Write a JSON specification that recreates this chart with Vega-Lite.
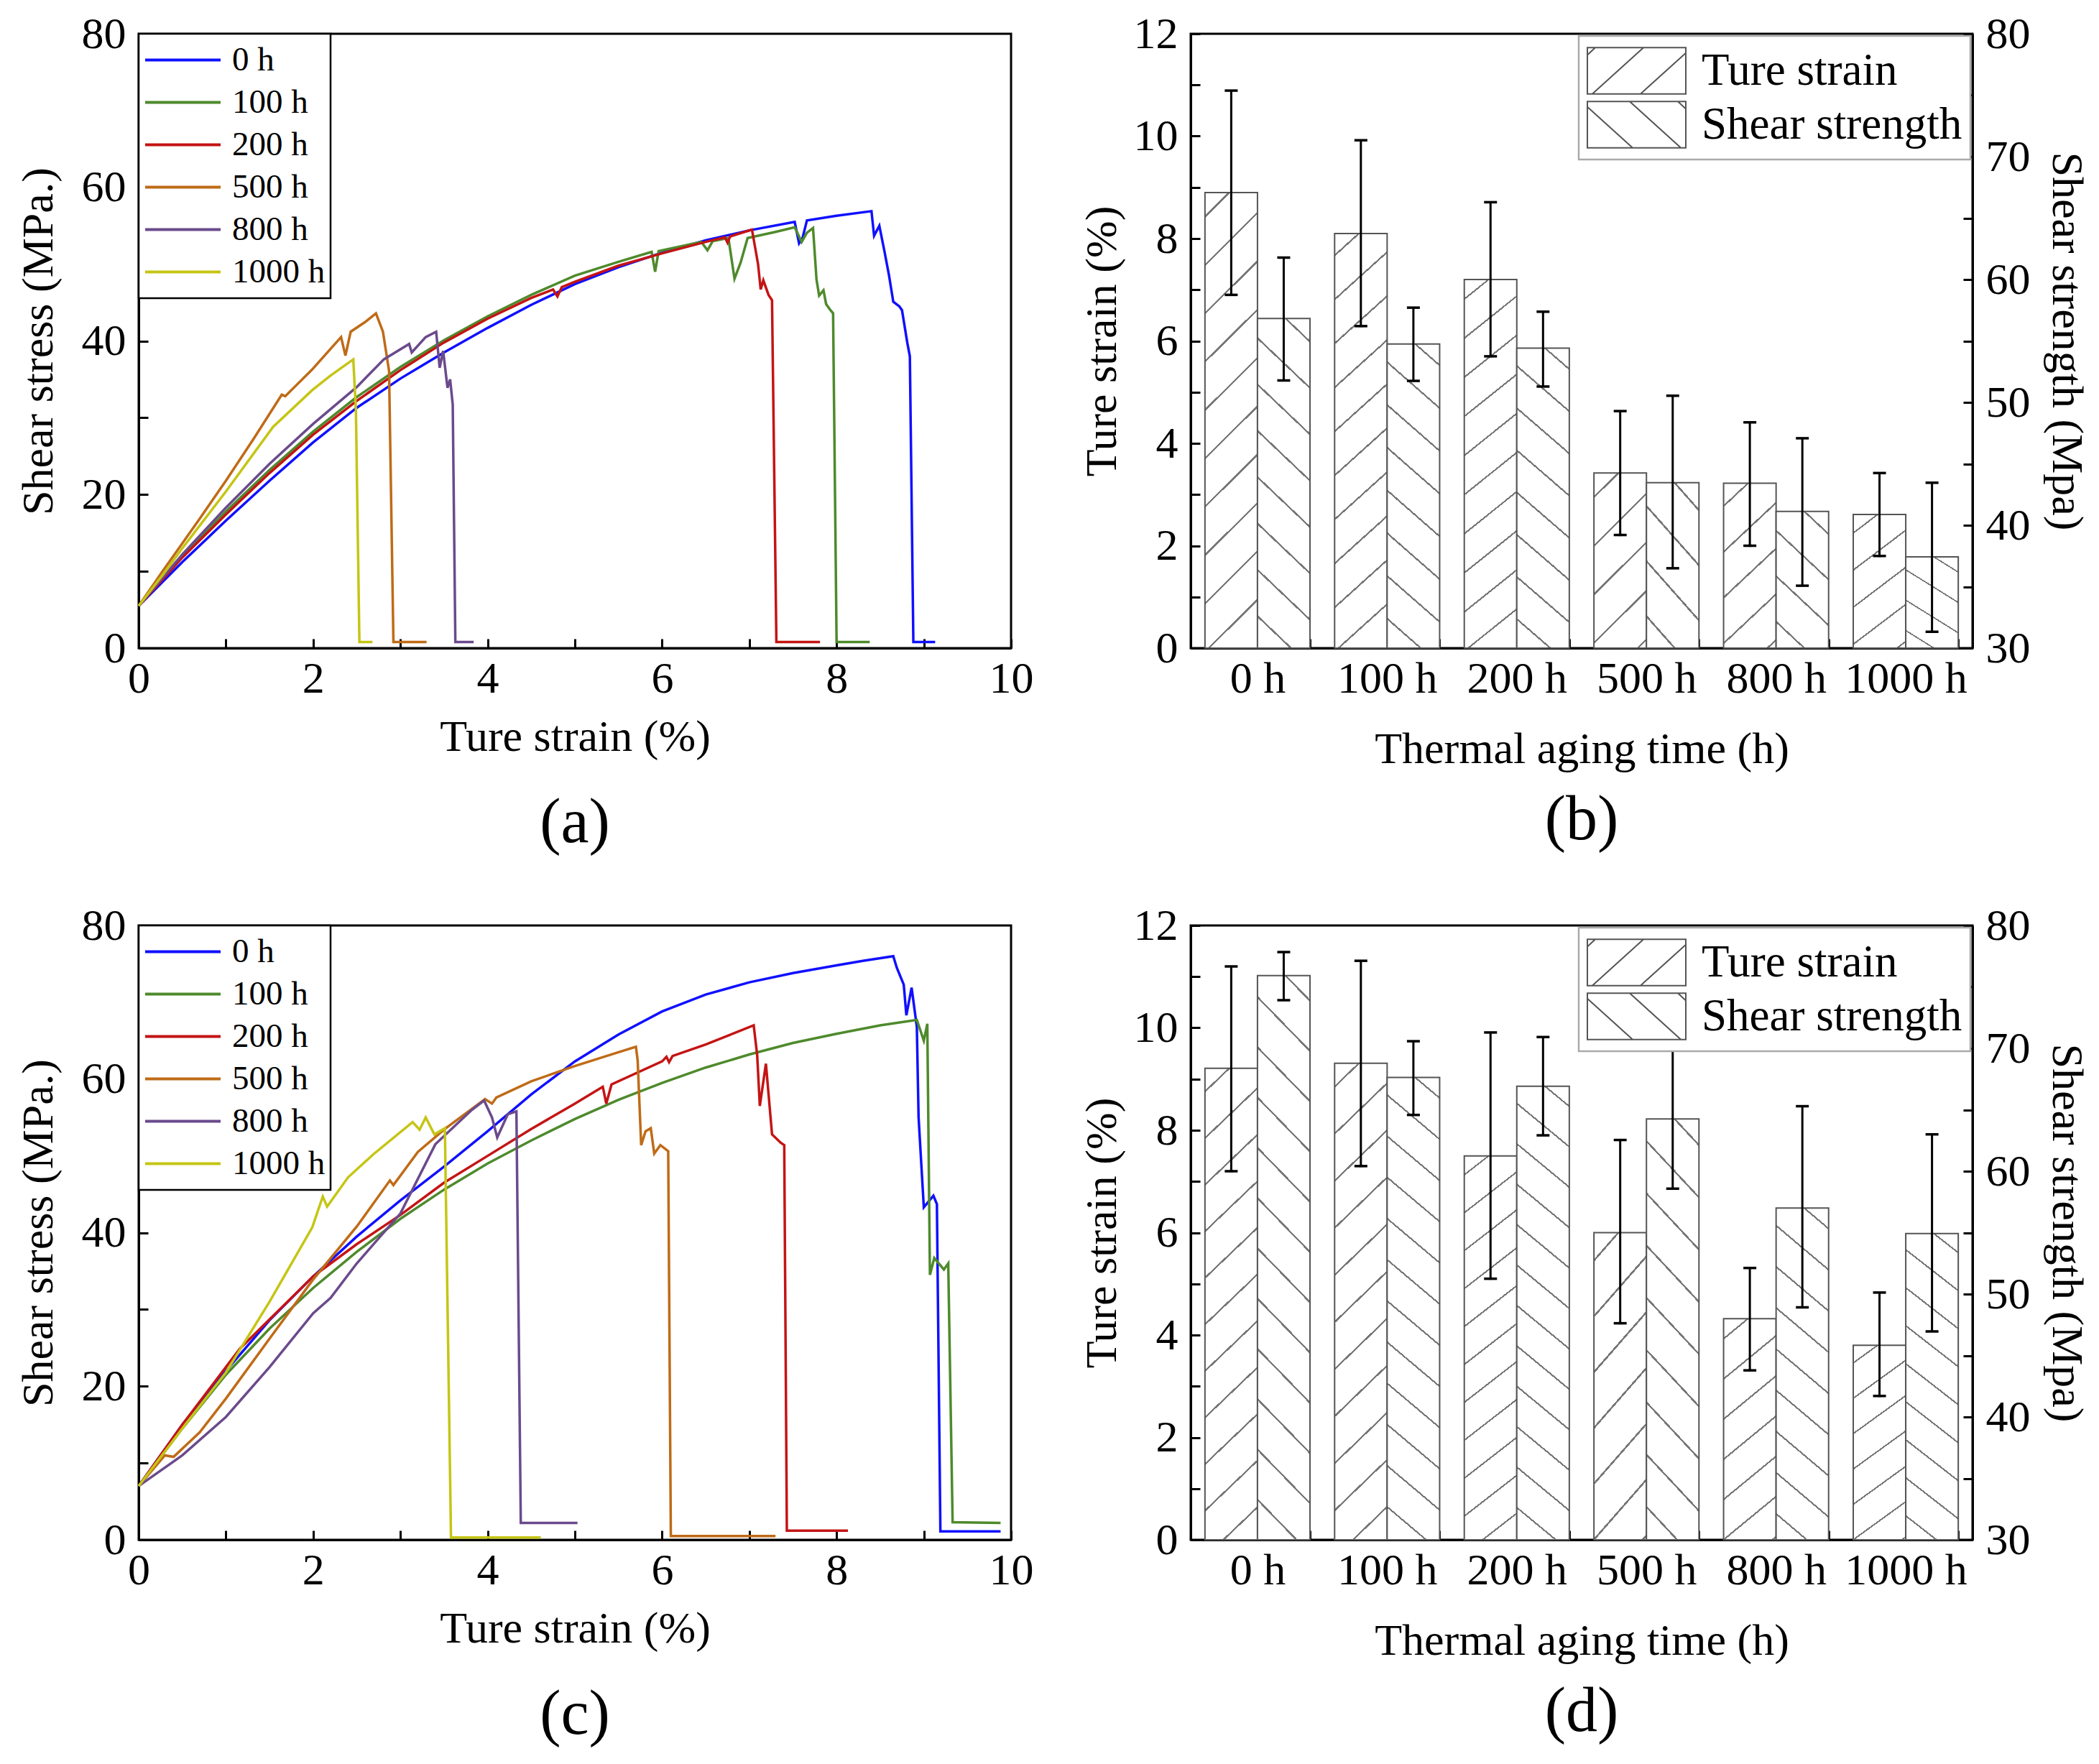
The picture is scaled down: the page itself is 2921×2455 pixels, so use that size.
{
  "$schema": "https://vega.github.io/schema/vega-lite/v6.json",
  "background": "white",
  "padding": {"left": 20, "top": 14, "right": 5, "bottom": 5},
  "config": {
    "font": "Liberation Serif",
    "view": {"stroke": "black", "strokeWidth": 3},
    "axis": {
      "grid": false, "domainColor": "black", "domainWidth": 3,
      "tickColor": "black", "tickWidth": 3, "tickSize": -13,
      "labelPadding": 31, "labelFontSize": 62, "labelColor": "black", "labelFlush": false,
      "labelFont": "Liberation Serif", "titleFont": "Liberation Serif",
      "titleFontSize": 62, "titleFontWeight": "normal", "titleColor": "black"
    },
    "legend": {"labelFont": "Liberation Serif", "labelColor": "black", "strokeWidth": 2.5, "labelLimit": 800},
    "title": {"font": "Liberation Serif", "fontWeight": "normal", "fontSize": 88, "color": "black"}
  },
  "resolve": {"legend": {"shape": "independent", "color": "independent"}},
  "datasets": {
    "a": [
      {"s":"0 h","x":0,"y":5.5},{"s":"0 h","x":0.5,"y":11.2},{"s":"0 h","x":1,"y":16.6},{"s":"0 h","x":1.5,"y":21.8},{"s":"0 h","x":2,"y":26.8},{"s":"0 h","x":2.5,"y":31.3},{"s":"0 h","x":3,"y":35.1},{"s":"0 h","x":3.5,"y":38.5},{"s":"0 h","x":4,"y":41.7},{"s":"0 h","x":4.5,"y":44.7},{"s":"0 h","x":5,"y":47.4},{"s":"0 h","x":5.5,"y":49.6},{"s":"0 h","x":6,"y":51.5},{"s":"0 h","x":6.5,"y":53.1},{"s":"0 h","x":7,"y":54.4},{"s":"0 h","x":7.52,"y":55.5},{"s":"0 h","x":7.57,"y":52.7},{"s":"0 h","x":7.61,"y":53.4},{"s":"0 h","x":7.66,"y":55.7},{"s":"0 h","x":8,"y":56.3},{"s":"0 h","x":8.4,"y":56.9},{"s":"0 h","x":8.43,"y":53.7},{"s":"0 h","x":8.49,"y":55},{"s":"0 h","x":8.55,"y":51.6},{"s":"0 h","x":8.6,"y":48.6},{"s":"0 h","x":8.65,"y":45.1},{"s":"0 h","x":8.72,"y":44.5},{"s":"0 h","x":8.75,"y":44},{"s":"0 h","x":8.81,"y":39.8},{"s":"0 h","x":8.84,"y":38},{"s":"0 h","x":8.88,"y":0.8},{"s":"0 h","x":9.13,"y":0.8},
      {"s":"100 h","x":0,"y":5.5},{"s":"100 h","x":0.5,"y":12},{"s":"100 h","x":1,"y":17.8},{"s":"100 h","x":1.5,"y":23.2},{"s":"100 h","x":2,"y":28.2},{"s":"100 h","x":2.5,"y":32.7},{"s":"100 h","x":3,"y":36.6},{"s":"100 h","x":3.5,"y":40.1},{"s":"100 h","x":4,"y":43.2},{"s":"100 h","x":4.5,"y":46},{"s":"100 h","x":5,"y":48.5},{"s":"100 h","x":5.5,"y":50.3},{"s":"100 h","x":5.88,"y":51.6},{"s":"100 h","x":5.92,"y":49},{"s":"100 h","x":5.96,"y":51.7},{"s":"100 h","x":6.45,"y":52.9},{"s":"100 h","x":6.52,"y":51.8},{"s":"100 h","x":6.58,"y":53},{"s":"100 h","x":6.76,"y":53.4},{"s":"100 h","x":6.83,"y":48.1},{"s":"100 h","x":6.9,"y":50.2},{"s":"100 h","x":6.98,"y":53.4},{"s":"100 h","x":7.3,"y":54.2},{"s":"100 h","x":7.52,"y":54.8},{"s":"100 h","x":7.6,"y":52.9},{"s":"100 h","x":7.66,"y":54.1},{"s":"100 h","x":7.73,"y":54.7},{"s":"100 h","x":7.77,"y":48},{"s":"100 h","x":7.8,"y":45.9},{"s":"100 h","x":7.85,"y":46.6},{"s":"100 h","x":7.88,"y":44.8},{"s":"100 h","x":7.93,"y":44},{"s":"100 h","x":7.96,"y":43.6},{"s":"100 h","x":8,"y":0.8},{"s":"100 h","x":8.38,"y":0.8},
      {"s":"200 h","x":0,"y":5.5},{"s":"200 h","x":0.5,"y":11.8},{"s":"200 h","x":1,"y":17.4},{"s":"200 h","x":1.5,"y":22.8},{"s":"200 h","x":2,"y":27.8},{"s":"200 h","x":2.5,"y":32.2},{"s":"200 h","x":3,"y":36.2},{"s":"200 h","x":3.5,"y":39.8},{"s":"200 h","x":4,"y":42.9},{"s":"200 h","x":4.5,"y":45.6},{"s":"200 h","x":4.75,"y":46.7},{"s":"200 h","x":4.8,"y":45.8},{"s":"200 h","x":4.85,"y":47},{"s":"200 h","x":5,"y":47.7},{"s":"200 h","x":5.5,"y":49.8},{"s":"200 h","x":6,"y":51.4},{"s":"200 h","x":6.5,"y":52.9},{"s":"200 h","x":6.72,"y":53.5},{"s":"200 h","x":6.75,"y":52.8},{"s":"200 h","x":6.78,"y":53.6},{"s":"200 h","x":7.03,"y":54.5},{"s":"200 h","x":7.1,"y":50},{"s":"200 h","x":7.13,"y":46.7},{"s":"200 h","x":7.16,"y":47.9},{"s":"200 h","x":7.22,"y":46},{"s":"200 h","x":7.26,"y":45.3},{"s":"200 h","x":7.31,"y":0.8},{"s":"200 h","x":7.81,"y":0.8},
      {"s":"500 h","x":0,"y":5.5},{"s":"500 h","x":0.28,"y":10.1},{"s":"500 h","x":0.69,"y":16.7},{"s":"500 h","x":1,"y":21.8},{"s":"500 h","x":1.32,"y":27.3},{"s":"500 h","x":1.64,"y":33},{"s":"500 h","x":1.68,"y":32.8},{"s":"500 h","x":1.99,"y":36.3},{"s":"500 h","x":2.32,"y":40.5},{"s":"500 h","x":2.37,"y":38.1},{"s":"500 h","x":2.43,"y":41.2},{"s":"500 h","x":2.6,"y":42.5},{"s":"500 h","x":2.72,"y":43.6},{"s":"500 h","x":2.8,"y":41.2},{"s":"500 h","x":2.87,"y":36.1},{"s":"500 h","x":2.92,"y":0.8},{"s":"500 h","x":3.3,"y":0.8},
      {"s":"800 h","x":0,"y":5.5},{"s":"800 h","x":0.5,"y":12.2},{"s":"800 h","x":1,"y":18.3},{"s":"800 h","x":1.5,"y":24},{"s":"800 h","x":2,"y":29.2},{"s":"800 h","x":2.5,"y":34},{"s":"800 h","x":2.81,"y":37.6},{"s":"800 h","x":3.1,"y":39.6},{"s":"800 h","x":3.13,"y":38.5},{"s":"800 h","x":3.29,"y":40.5},{"s":"800 h","x":3.41,"y":41.2},{"s":"800 h","x":3.45,"y":36.5},{"s":"800 h","x":3.49,"y":38.7},{"s":"800 h","x":3.54,"y":33.9},{"s":"800 h","x":3.57,"y":35},{"s":"800 h","x":3.6,"y":31.7},{"s":"800 h","x":3.63,"y":0.8},{"s":"800 h","x":3.84,"y":0.8},
      {"s":"1000 h","x":0,"y":5.5},{"s":"1000 h","x":0.28,"y":9.6},{"s":"1000 h","x":0.5,"y":13},{"s":"1000 h","x":1,"y":20.4},{"s":"1000 h","x":1.54,"y":28.8},{"s":"1000 h","x":1.99,"y":33.6},{"s":"1000 h","x":2.2,"y":35.5},{"s":"1000 h","x":2.46,"y":37.6},{"s":"1000 h","x":2.49,"y":31},{"s":"1000 h","x":2.53,"y":0.8},{"s":"1000 h","x":2.68,"y":0.8}
    ],
    "c": [
      {"s":"0 h","x":0,"y":7},{"s":"0 h","x":0.5,"y":15},{"s":"0 h","x":1,"y":22},{"s":"0 h","x":1.5,"y":28.6},{"s":"0 h","x":2,"y":34.3},{"s":"0 h","x":2.5,"y":39.5},{"s":"0 h","x":3,"y":44.2},{"s":"0 h","x":3.5,"y":48.6},{"s":"0 h","x":4,"y":53.2},{"s":"0 h","x":4.5,"y":58},{"s":"0 h","x":5,"y":62.3},{"s":"0 h","x":5.5,"y":65.8},{"s":"0 h","x":6,"y":68.8},{"s":"0 h","x":6.5,"y":71},{"s":"0 h","x":7,"y":72.6},{"s":"0 h","x":7.5,"y":73.8},{"s":"0 h","x":8,"y":74.8},{"s":"0 h","x":8.3,"y":75.4},{"s":"0 h","x":8.65,"y":76},{"s":"0 h","x":8.69,"y":74.5},{"s":"0 h","x":8.77,"y":72.3},{"s":"0 h","x":8.8,"y":68.3},{"s":"0 h","x":8.86,"y":71.9},{"s":"0 h","x":8.92,"y":66.8},{"s":"0 h","x":8.94,"y":55},{"s":"0 h","x":9,"y":43.3},{"s":"0 h","x":9.11,"y":44.8},{"s":"0 h","x":9.15,"y":43.7},{"s":"0 h","x":9.19,"y":1.1},{"s":"0 h","x":9.88,"y":1.1},
      {"s":"100 h","x":0,"y":7},{"s":"100 h","x":0.5,"y":14.5},{"s":"100 h","x":1,"y":21.5},{"s":"100 h","x":1.5,"y":27.5},{"s":"100 h","x":2,"y":32.8},{"s":"100 h","x":2.5,"y":37.5},{"s":"100 h","x":3,"y":41.8},{"s":"100 h","x":3.5,"y":45.6},{"s":"100 h","x":4,"y":49},{"s":"100 h","x":4.5,"y":52},{"s":"100 h","x":5,"y":54.8},{"s":"100 h","x":5.5,"y":57.3},{"s":"100 h","x":6,"y":59.5},{"s":"100 h","x":6.5,"y":61.5},{"s":"100 h","x":7,"y":63.2},{"s":"100 h","x":7.5,"y":64.7},{"s":"100 h","x":8,"y":65.9},{"s":"100 h","x":8.5,"y":67},{"s":"100 h","x":8.92,"y":67.7},{"s":"100 h","x":9,"y":65},{"s":"100 h","x":9.04,"y":67.2},{"s":"100 h","x":9.07,"y":34.5},{"s":"100 h","x":9.12,"y":36.7},{"s":"100 h","x":9.23,"y":35.2},{"s":"100 h","x":9.28,"y":36},{"s":"100 h","x":9.33,"y":2.3},{"s":"100 h","x":9.88,"y":2.2},
      {"s":"200 h","x":0,"y":7},{"s":"200 h","x":0.5,"y":15},{"s":"200 h","x":1,"y":22.5},{"s":"200 h","x":1.16,"y":24.9},{"s":"200 h","x":1.5,"y":28.7},{"s":"200 h","x":2,"y":34.3},{"s":"200 h","x":2.5,"y":38.5},{"s":"200 h","x":3,"y":42.3},{"s":"200 h","x":3.5,"y":46.5},{"s":"200 h","x":4,"y":50},{"s":"200 h","x":4.5,"y":53.5},{"s":"200 h","x":5,"y":56.8},{"s":"200 h","x":5.32,"y":59},{"s":"200 h","x":5.36,"y":56.8},{"s":"200 h","x":5.42,"y":59.3},{"s":"200 h","x":6,"y":62.3},{"s":"200 h","x":6.05,"y":62.9},{"s":"200 h","x":6.08,"y":62.2},{"s":"200 h","x":6.12,"y":63},{"s":"200 h","x":6.5,"y":64.5},{"s":"200 h","x":7.05,"y":67},{"s":"200 h","x":7.09,"y":63.1},{"s":"200 h","x":7.12,"y":56.5},{"s":"200 h","x":7.19,"y":62},{"s":"200 h","x":7.26,"y":52.8},{"s":"200 h","x":7.36,"y":51.7},{"s":"200 h","x":7.4,"y":51.4},{"s":"200 h","x":7.43,"y":1.2},{"s":"200 h","x":8.13,"y":1.2},
      {"s":"500 h","x":0,"y":7},{"s":"500 h","x":0.3,"y":11},{"s":"500 h","x":0.4,"y":10.8},{"s":"500 h","x":0.7,"y":14},{"s":"500 h","x":1,"y":18.4},{"s":"500 h","x":1.5,"y":26.2},{"s":"500 h","x":2,"y":33.9},{"s":"500 h","x":2.5,"y":40.8},{"s":"500 h","x":2.88,"y":46.8},{"s":"500 h","x":2.92,"y":46.2},{"s":"500 h","x":3.2,"y":50.5},{"s":"500 h","x":3.51,"y":53.5},{"s":"500 h","x":3.97,"y":57.4},{"s":"500 h","x":4.05,"y":56.8},{"s":"500 h","x":4.1,"y":57.6},{"s":"500 h","x":4.5,"y":59.7},{"s":"500 h","x":5,"y":61.7},{"s":"500 h","x":5.5,"y":63.5},{"s":"500 h","x":5.7,"y":64.2},{"s":"500 h","x":5.72,"y":62.4},{"s":"500 h","x":5.76,"y":51.4},{"s":"500 h","x":5.81,"y":53.2},{"s":"500 h","x":5.87,"y":53.6},{"s":"500 h","x":5.91,"y":50.3},{"s":"500 h","x":5.98,"y":51.4},{"s":"500 h","x":6.07,"y":50.6},{"s":"500 h","x":6.1,"y":0.5},{"s":"500 h","x":7.3,"y":0.5},
      {"s":"800 h","x":0,"y":7},{"s":"800 h","x":0.5,"y":11},{"s":"800 h","x":1,"y":16},{"s":"800 h","x":1.5,"y":22.5},{"s":"800 h","x":2,"y":29.5},{"s":"800 h","x":2.2,"y":31.5},{"s":"800 h","x":2.5,"y":36},{"s":"800 h","x":3,"y":42.5},{"s":"800 h","x":3.4,"y":51.5},{"s":"800 h","x":3.82,"y":56},{"s":"800 h","x":3.96,"y":57.2},{"s":"800 h","x":4.05,"y":55},{"s":"800 h","x":4.11,"y":52.4},{"s":"800 h","x":4.23,"y":55.4},{"s":"800 h","x":4.33,"y":55.8},{"s":"800 h","x":4.38,"y":2.2},{"s":"800 h","x":5.03,"y":2.2},
      {"s":"1000 h","x":0,"y":7},{"s":"1000 h","x":0.5,"y":14.5},{"s":"1000 h","x":1,"y":21.8},{"s":"1000 h","x":1.5,"y":31},{"s":"1000 h","x":1.99,"y":40.7},{"s":"1000 h","x":2.11,"y":44.7},{"s":"1000 h","x":2.16,"y":43.4},{"s":"1000 h","x":2.4,"y":47.2},{"s":"1000 h","x":2.69,"y":50.2},{"s":"1000 h","x":3.14,"y":54.4},{"s":"1000 h","x":3.22,"y":53.4},{"s":"1000 h","x":3.29,"y":55},{"s":"1000 h","x":3.39,"y":52.8},{"s":"1000 h","x":3.51,"y":53.6},{"s":"1000 h","x":3.58,"y":0.3},{"s":"1000 h","x":4.61,"y":0.3}
    ],
    "bTS": [
      {"t":"0 h","series":"Ture strain","v":8.9,"lo":6.9,"hi":10.89},
      {"t":"100 h","series":"Ture strain","v":8.1,"lo":6.29,"hi":9.92},
      {"t":"200 h","series":"Ture strain","v":7.2,"lo":5.7,"hi":8.71},
      {"t":"500 h","series":"Ture strain","v":3.42,"lo":2.21,"hi":4.63},
      {"t":"800 h","series":"Ture strain","v":3.22,"lo":2.0,"hi":4.41},
      {"t":"1000 h","series":"Ture strain","v":2.61,"lo":1.8,"hi":3.42}
    ],
    "bSS": [
      {"t":"0 h","series":"Shear strength","v":56.83,"lo":51.79,"hi":61.79},
      {"t":"100 h","series":"Shear strength","v":54.75,"lo":51.75,"hi":57.71},
      {"t":"200 h","series":"Shear strength","v":54.42,"lo":51.29,"hi":57.38},
      {"t":"500 h","series":"Shear strength","v":43.46,"lo":36.5,"hi":50.54},
      {"t":"800 h","series":"Shear strength","v":41.13,"lo":35.08,"hi":47.08},
      {"t":"1000 h","series":"Shear strength","v":37.42,"lo":31.33,"hi":43.46}
    ],
    "dTS": [
      {"t":"0 h","series":"Ture strain","v":9.21,"lo":7.2,"hi":11.2},
      {"t":"100 h","series":"Ture strain","v":9.31,"lo":7.3,"hi":11.31},
      {"t":"200 h","series":"Ture strain","v":7.5,"lo":5.1,"hi":9.91},
      {"t":"500 h","series":"Ture strain","v":6.0,"lo":4.23,"hi":7.81},
      {"t":"800 h","series":"Ture strain","v":4.32,"lo":3.31,"hi":5.31},
      {"t":"1000 h","series":"Ture strain","v":3.8,"lo":2.81,"hi":4.83}
    ],
    "dSS": [
      {"t":"0 h","series":"Shear strength","v":75.92,"lo":73.92,"hi":77.83},
      {"t":"100 h","series":"Shear strength","v":67.63,"lo":64.58,"hi":70.58},
      {"t":"200 h","series":"Shear strength","v":66.92,"lo":62.92,"hi":70.92},
      {"t":"500 h","series":"Shear strength","v":64.25,"lo":58.58,"hi":69.83},
      {"t":"800 h","series":"Shear strength","v":57.0,"lo":48.92,"hi":65.29},
      {"t":"1000 h","series":"Shear strength","v":54.92,"lo":46.96,"hi":63.0}
    ]
  },
  "columns": 2,
  "spacing": {"row": 63, "column": 60},
  "concat": [
    {
      "width": 1214, "height": 855,
      "data": {"name": "a"},
      "title": {"text": "(a)", "orient": "bottom", "offset": 46},
      "mark": {"type": "line", "strokeWidth": 3.5},
      "encoding": {
        "x": {"field": "x", "type": "quantitative", "scale": {"domain": [0, 10], "nice": false},
              "axis": {"title": "Ture strain (%)", "format": "d", "labelPadding": 25, "values": [0,1,2,3,4,5,6,7,8,9,10], "labelExpr": "datum.value % 2 === 0 ? datum.label : ''", "titlePadding": 20}},
        "y": {"field": "y", "type": "quantitative", "scale": {"domain": [0, 80], "nice": false},
              "axis": {"title": "Shear stress (MPa.)", "format": "d", "values": [0,10,20,30,40,50,60,70,80], "labelExpr": "datum.value % 20 === 0 ? datum.label : ''", "titlePadding": 28}},
        "color": {"field": "s", "type": "nominal",
                  "scale": {"domain": ["0 h","100 h","200 h","500 h","800 h","1000 h"], "range": ["#1010ff","#4e8a2c","#c41414","#bf6b17","#6b4a8c","#c5c515"]},
                  "legend": {"title": null, "orient": "top-left", "offset": 0, "strokeColor": "black", "fillColor": "white", "padding": 7, "labelFontSize": 47, "symbolType": "stroke", "symbolSize": 11025, "symbolStrokeWidth": 4, "clipHeight": 59, "labelOffset": 14, "rowPadding": 0}}
      }
    },
    {
      "width": 1088, "height": 855,
      "title": {"text": "(b)", "orient": "bottom", "offset": 25},
      "resolve": {"scale": {"y": "independent"}},
      "encoding": {
        "x": {"field": "t", "type": "nominal", "sort": ["0 h","100 h","200 h","500 h","800 h","1000 h"],
              "scale": {"paddingInner": 0.19, "paddingOuter": 0.11},
              "axis": {"title": "Thermal aging time (h)", "labelAngle": 0, "labelPadding": 25, "tickBand": "extent", "titlePadding": 37}},
        "xOffset": {"field": "series", "type": "nominal", "scale": {"domain": ["Ture strain","Shear strength"], "paddingInner": 0, "paddingOuter": 0}}
      },
      "layer": [
        {
          "data": {"name": "bTS"},
          "layer": [
            {
              "transform": [{"filter": "datum.v >= 5"}],
              "mark": {"type": "bar", "stroke": "#555", "strokeWidth": 2, "fill": {"gradient": "linear", "x1": 0, "y1": 0, "x2": 0.1257, "y2": 1.0999, "stops": [
                {"offset":0,"color":"white"},
                {"offset":0.0452,"color":"white"},{"offset":0.0452,"color":"#777"},{"offset":0.05,"color":"#777"},{"offset":0.05,"color":"white"},
                {"offset":0.1405,"color":"white"},{"offset":0.1405,"color":"#777"},{"offset":0.1453,"color":"#777"},{"offset":0.1453,"color":"white"},
                {"offset":0.2357,"color":"white"},{"offset":0.2357,"color":"#777"},{"offset":0.2405,"color":"#777"},{"offset":0.2405,"color":"white"},
                {"offset":0.3309,"color":"white"},{"offset":0.3309,"color":"#777"},{"offset":0.3357,"color":"#777"},{"offset":0.3357,"color":"white"},
                {"offset":0.4262,"color":"white"},{"offset":0.4262,"color":"#777"},{"offset":0.431,"color":"#777"},{"offset":0.431,"color":"white"},
                {"offset":0.5214,"color":"white"},{"offset":0.5214,"color":"#777"},{"offset":0.5262,"color":"#777"},{"offset":0.5262,"color":"white"},
                {"offset":0.6166,"color":"white"},{"offset":0.6166,"color":"#777"},{"offset":0.6214,"color":"#777"},{"offset":0.6214,"color":"white"},
                {"offset":0.7119,"color":"white"},{"offset":0.7119,"color":"#777"},{"offset":0.7167,"color":"#777"},{"offset":0.7167,"color":"white"},
                {"offset":0.8071,"color":"white"},{"offset":0.8071,"color":"#777"},{"offset":0.8119,"color":"#777"},{"offset":0.8119,"color":"white"},
                {"offset":0.9024,"color":"white"},{"offset":0.9024,"color":"#777"},{"offset":0.9072,"color":"#777"},{"offset":0.9072,"color":"white"},
                {"offset":1,"color":"white"}]}},
              "encoding": {"y": {"field": "v", "type": "quantitative", "title": "Ture strain (%)", "scale": {"domain": [0, 12], "nice": false},
                                 "axis": {"format": "d", "values": [0,1,2,3,4,5,6,7,8,9,10,11,12], "labelExpr": "datum.value % 2 === 0 ? datum.label : ''", "titlePadding": 12}}}
            },
            {
              "transform": [{"filter": "datum.v < 5"}],
              "mark": {"type": "bar", "stroke": "#555", "strokeWidth": 2, "fill": {"gradient": "linear", "x1": 0, "y1": 0, "x2": 0.356, "y2": 1.1923, "stops": [
                {"offset":0,"color":"white"},
                {"offset":0.1015,"color":"white"},{"offset":0.1015,"color":"#777"},{"offset":0.1121,"color":"#777"},{"offset":0.1121,"color":"white"},
                {"offset":0.3152,"color":"white"},{"offset":0.3152,"color":"#777"},{"offset":0.3258,"color":"#777"},{"offset":0.3258,"color":"white"},
                {"offset":0.5289,"color":"white"},{"offset":0.5289,"color":"#777"},{"offset":0.5395,"color":"#777"},{"offset":0.5395,"color":"white"},
                {"offset":0.7426,"color":"white"},{"offset":0.7426,"color":"#777"},{"offset":0.7532,"color":"#777"},{"offset":0.7532,"color":"white"},
                {"offset":0.9563,"color":"white"},{"offset":0.9563,"color":"#777"},{"offset":0.9669,"color":"#777"},{"offset":0.9669,"color":"white"},
                {"offset":1,"color":"white"}]}},
              "encoding": {"y": {"field": "v", "type": "quantitative", "title": "Ture strain (%)"}}
            },
            {"mark": {"type": "point", "filled": false, "color": "#555", "size": 10},
             "encoding": {
               "y": {"field": "lo", "type": "quantitative", "title": "Ture strain (%)"},
               "shape": {"field": "series", "type": "nominal",
                         "scale": {"domain": ["Ture strain","Shear strength"], "range": ["M-1,-0.47H1V0.47H-1Z M-0.9,0.47L0.14,-0.47 M0.08,0.47L1,-0.36 M-1,-0.32L-0.84,-0.47", "M-1,-0.47H1V0.47H-1Z M0.9,0.47L-0.14,-0.47 M-0.08,0.47L-1,-0.36 M1,-0.32L0.84,-0.47"]},
                         "legend": {"title": null, "orient": "top-right", "offset": 3, "strokeColor": "#aaa", "fillColor": "white", "padding": 11, "labelFontSize": 63, "symbolSize": 18769, "symbolStrokeColor": "#555", "symbolStrokeWidth": 2, "symbolOpacity": 1, "clipHeight": 75, "rowPadding": 0, "labelOffset": 21, "labelLimit": 800}}
             }},
            {"mark": {"type": "rule", "strokeWidth": 3, "color": "black"},
             "encoding": {"y": {"field": "lo", "type": "quantitative", "title": "Ture strain (%)"}, "y2": {"field": "hi"}}},
            {"mark": {"type": "tick", "size": 18, "thickness": 3.5, "color": "black", "opacity": 1},
             "encoding": {"y": {"field": "lo", "type": "quantitative", "title": "Ture strain (%)"}}},
            {"mark": {"type": "tick", "size": 18, "thickness": 3.5, "color": "black", "opacity": 1},
             "encoding": {"y": {"field": "hi", "type": "quantitative", "title": "Ture strain (%)"}}}
          ]
        },
        {
          "data": {"name": "bSS"},
          "layer": [
            {
              "transform": [{"filter": "datum.v >= 50"}],
              "mark": {"type": "bar", "stroke": "#555", "strokeWidth": 2, "fill": {"gradient": "linear", "x1": 1, "y1": 0, "x2": 0.8296, "y2": 1.1256, "stops": [
                {"offset":0,"color":"white"},
                {"offset":0.058,"color":"white"},{"offset":0.058,"color":"#777"},{"offset":0.0642,"color":"#777"},{"offset":0.0642,"color":"white"},
                {"offset":0.1801,"color":"white"},{"offset":0.1801,"color":"#777"},{"offset":0.1863,"color":"#777"},{"offset":0.1863,"color":"white"},
                {"offset":0.3022,"color":"white"},{"offset":0.3022,"color":"#777"},{"offset":0.3084,"color":"#777"},{"offset":0.3084,"color":"white"},
                {"offset":0.4243,"color":"white"},{"offset":0.4243,"color":"#777"},{"offset":0.4305,"color":"#777"},{"offset":0.4305,"color":"white"},
                {"offset":0.5464,"color":"white"},{"offset":0.5464,"color":"#777"},{"offset":0.5526,"color":"#777"},{"offset":0.5526,"color":"white"},
                {"offset":0.6685,"color":"white"},{"offset":0.6685,"color":"#777"},{"offset":0.6747,"color":"#777"},{"offset":0.6747,"color":"white"},
                {"offset":0.7906,"color":"white"},{"offset":0.7906,"color":"#777"},{"offset":0.7968,"color":"#777"},{"offset":0.7968,"color":"white"},
                {"offset":0.9127,"color":"white"},{"offset":0.9127,"color":"#777"},{"offset":0.9189,"color":"#777"},{"offset":0.9189,"color":"white"},
                {"offset":1,"color":"white"}]}},
              "encoding": {"y": {"field": "v", "type": "quantitative", "title": "Shear strength (Mpa)", "scale": {"domain": [30, 80], "nice": false, "zero": false},
                                 "axis": {"orient": "right", "format": "d", "values": [30,35,40,45,50,55,60,65,70,75,80], "labelExpr": "datum.value % 10 === 0 ? datum.label : ''", "titlePadding": 18}},
                           "y2": {"datum": 30}}
            },
            {
              "transform": [{"filter": "datum.v < 50"}],
              "mark": {"type": "bar", "stroke": "#555", "strokeWidth": 2, "fill": {"gradient": "linear", "x1": 1, "y1": 0, "x2": 0.5678, "y2": 1.2039, "stops": [
                {"offset":0,"color":"white"},
                {"offset":0.1164,"color":"white"},{"offset":0.1164,"color":"#777"},{"offset":0.1286,"color":"#777"},{"offset":0.1286,"color":"white"},
                {"offset":0.3615,"color":"white"},{"offset":0.3615,"color":"#777"},{"offset":0.3737,"color":"#777"},{"offset":0.3737,"color":"white"},
                {"offset":0.6066,"color":"white"},{"offset":0.6066,"color":"#777"},{"offset":0.6188,"color":"#777"},{"offset":0.6188,"color":"white"},
                {"offset":0.8517,"color":"white"},{"offset":0.8517,"color":"#777"},{"offset":0.8639,"color":"#777"},{"offset":0.8639,"color":"white"},
                {"offset":1,"color":"white"}]}},
              "encoding": {"y": {"field": "v", "type": "quantitative", "title": "Shear strength (Mpa)"}, "y2": {"datum": 30}}
            },
            {"mark": {"type": "rule", "strokeWidth": 3, "color": "black"},
             "encoding": {"y": {"field": "lo", "type": "quantitative", "title": "Shear strength (Mpa)"}, "y2": {"field": "hi"}}},
            {"mark": {"type": "tick", "size": 18, "thickness": 3.5, "color": "black", "opacity": 1},
             "encoding": {"y": {"field": "lo", "type": "quantitative", "title": "Shear strength (Mpa)"}}},
            {"mark": {"type": "tick", "size": 18, "thickness": 3.5, "color": "black", "opacity": 1},
             "encoding": {"y": {"field": "hi", "type": "quantitative", "title": "Shear strength (Mpa)"}}}
          ]
        }
      ]
    },
    {
      "width": 1214, "height": 855,
      "data": {"name": "c"},
      "title": {"text": "(c)", "orient": "bottom", "offset": 46},
      "mark": {"type": "line", "strokeWidth": 3.5},
      "encoding": {
        "x": {"field": "x", "type": "quantitative", "scale": {"domain": [0, 10], "nice": false},
              "axis": {"title": "Ture strain (%)", "format": "d", "labelPadding": 25, "values": [0,1,2,3,4,5,6,7,8,9,10], "labelExpr": "datum.value % 2 === 0 ? datum.label : ''", "titlePadding": 20}},
        "y": {"field": "y", "type": "quantitative", "scale": {"domain": [0, 80], "nice": false},
              "axis": {"title": "Shear stress (MPa.)", "format": "d", "values": [0,10,20,30,40,50,60,70,80], "labelExpr": "datum.value % 20 === 0 ? datum.label : ''", "titlePadding": 28}},
        "color": {"field": "s", "type": "nominal",
                  "scale": {"domain": ["0 h","100 h","200 h","500 h","800 h","1000 h"], "range": ["#1010ff","#4e8a2c","#c41414","#bf6b17","#6b4a8c","#c5c515"]},
                  "legend": {"title": null, "orient": "top-left", "offset": 0, "strokeColor": "black", "fillColor": "white", "padding": 7, "labelFontSize": 47, "symbolType": "stroke", "symbolSize": 11025, "symbolStrokeWidth": 4, "clipHeight": 59, "labelOffset": 14, "rowPadding": 0}}
      }
    },
    {
      "width": 1088, "height": 855,
      "title": {"text": "(d)", "orient": "bottom", "offset": 25},
      "resolve": {"scale": {"y": "independent"}},
      "encoding": {
        "x": {"field": "t", "type": "nominal", "sort": ["0 h","100 h","200 h","500 h","800 h","1000 h"],
              "scale": {"paddingInner": 0.19, "paddingOuter": 0.11},
              "axis": {"title": "Thermal aging time (h)", "labelAngle": 0, "labelPadding": 25, "tickBand": "extent", "titlePadding": 37}},
        "xOffset": {"field": "series", "type": "nominal", "scale": {"domain": ["Ture strain","Shear strength"], "paddingInner": 0, "paddingOuter": 0}}
      },
      "layer": [
        {
          "data": {"name": "dTS"},
          "layer": [
            {
              "transform": [{"filter": "datum.v >= 7"}],
              "mark": {"type": "bar", "stroke": "#555", "strokeWidth": 2, "fill": {"gradient": "linear", "x1": 0, "y1": 0, "x2": 0.1163, "y2": 1.0939, "stops": [
                {"offset":0,"color":"white"},
                {"offset":0.0424,"color":"white"},{"offset":0.0424,"color":"#777"},{"offset":0.0468,"color":"#777"},{"offset":0.0468,"color":"white"},
                {"offset":0.1317,"color":"white"},{"offset":0.1317,"color":"#777"},{"offset":0.1361,"color":"#777"},{"offset":0.1361,"color":"white"},
                {"offset":0.221,"color":"white"},{"offset":0.221,"color":"#777"},{"offset":0.2254,"color":"#777"},{"offset":0.2254,"color":"white"},
                {"offset":0.3103,"color":"white"},{"offset":0.3103,"color":"#777"},{"offset":0.3147,"color":"#777"},{"offset":0.3147,"color":"white"},
                {"offset":0.3996,"color":"white"},{"offset":0.3996,"color":"#777"},{"offset":0.404,"color":"#777"},{"offset":0.404,"color":"white"},
                {"offset":0.4889,"color":"white"},{"offset":0.4889,"color":"#777"},{"offset":0.4933,"color":"#777"},{"offset":0.4933,"color":"white"},
                {"offset":0.5782,"color":"white"},{"offset":0.5782,"color":"#777"},{"offset":0.5826,"color":"#777"},{"offset":0.5826,"color":"white"},
                {"offset":0.6674,"color":"white"},{"offset":0.6674,"color":"#777"},{"offset":0.6718,"color":"#777"},{"offset":0.6718,"color":"white"},
                {"offset":0.7567,"color":"white"},{"offset":0.7567,"color":"#777"},{"offset":0.7611,"color":"#777"},{"offset":0.7611,"color":"white"},
                {"offset":0.846,"color":"white"},{"offset":0.846,"color":"#777"},{"offset":0.8504,"color":"#777"},{"offset":0.8504,"color":"white"},
                {"offset":0.9353,"color":"white"},{"offset":0.9353,"color":"#777"},{"offset":0.9397,"color":"#777"},{"offset":0.9397,"color":"white"},
                {"offset":1,"color":"white"}]}},
              "encoding": {"y": {"field": "v", "type": "quantitative", "title": "Ture strain (%)", "scale": {"domain": [0, 12], "nice": false},
                                 "axis": {"format": "d", "values": [0,1,2,3,4,5,6,7,8,9,10,11,12], "labelExpr": "datum.value % 2 === 0 ? datum.label : ''", "titlePadding": 12}}}
            },
            {
              "transform": [{"filter": "datum.v < 7"}],
              "mark": {"type": "bar", "stroke": "#555", "strokeWidth": 2, "fill": {"gradient": "linear", "x1": 0, "y1": 0, "x2": 0.2251, "y2": 1.1515, "stops": [
                {"offset":0,"color":"white"},
                {"offset":0.0722,"color":"white"},{"offset":0.0722,"color":"#777"},{"offset":0.0798,"color":"#777"},{"offset":0.0798,"color":"white"},
                {"offset":0.2242,"color":"white"},{"offset":0.2242,"color":"#777"},{"offset":0.2318,"color":"#777"},{"offset":0.2318,"color":"white"},
                {"offset":0.3762,"color":"white"},{"offset":0.3762,"color":"#777"},{"offset":0.3838,"color":"#777"},{"offset":0.3838,"color":"white"},
                {"offset":0.5282,"color":"white"},{"offset":0.5282,"color":"#777"},{"offset":0.5358,"color":"#777"},{"offset":0.5358,"color":"white"},
                {"offset":0.6802,"color":"white"},{"offset":0.6802,"color":"#777"},{"offset":0.6878,"color":"#777"},{"offset":0.6878,"color":"white"},
                {"offset":0.8322,"color":"white"},{"offset":0.8322,"color":"#777"},{"offset":0.8398,"color":"#777"},{"offset":0.8398,"color":"white"},
                {"offset":0.9842,"color":"white"},{"offset":0.9842,"color":"#777"},{"offset":0.9918,"color":"#777"},{"offset":0.9918,"color":"white"},
                {"offset":1,"color":"white"}]}},
              "encoding": {"y": {"field": "v", "type": "quantitative", "title": "Ture strain (%)"}}
            },
            {"mark": {"type": "point", "filled": false, "color": "#555", "size": 10},
             "encoding": {
               "y": {"field": "lo", "type": "quantitative", "title": "Ture strain (%)"},
               "shape": {"field": "series", "type": "nominal",
                         "scale": {"domain": ["Ture strain","Shear strength"], "range": ["M-1,-0.47H1V0.47H-1Z M-0.9,0.47L0.14,-0.47 M0.08,0.47L1,-0.36 M-1,-0.32L-0.84,-0.47", "M-1,-0.47H1V0.47H-1Z M0.9,0.47L-0.14,-0.47 M-0.08,0.47L-1,-0.36 M1,-0.32L0.84,-0.47"]},
                         "legend": {"title": null, "orient": "top-right", "offset": 3, "strokeColor": "#aaa", "fillColor": "white", "padding": 11, "labelFontSize": 63, "symbolSize": 18769, "symbolStrokeColor": "#555", "symbolStrokeWidth": 2, "symbolOpacity": 1, "clipHeight": 75, "rowPadding": 0, "labelOffset": 21, "labelLimit": 800}}
             }},
            {"mark": {"type": "rule", "strokeWidth": 3, "color": "black"},
             "encoding": {"y": {"field": "lo", "type": "quantitative", "title": "Ture strain (%)"}, "y2": {"field": "hi"}}},
            {"mark": {"type": "tick", "size": 18, "thickness": 3.5, "color": "black", "opacity": 1},
             "encoding": {"y": {"field": "lo", "type": "quantitative", "title": "Ture strain (%)"}}},
            {"mark": {"type": "tick", "size": 18, "thickness": 3.5, "color": "black", "opacity": 1},
             "encoding": {"y": {"field": "hi", "type": "quantitative", "title": "Ture strain (%)"}}}
          ]
        },
        {
          "data": {"name": "dSS"},
          "layer": [
            {
              "transform": [{"filter": "datum.v >= 65"}],
              "mark": {"type": "bar", "stroke": "#555", "strokeWidth": 2, "fill": {"gradient": "linear", "x1": 1, "y1": 0, "x2": 0.896, "y2": 1.0858, "stops": [
                {"offset":0,"color":"white"},
                {"offset":0.0387,"color":"white"},{"offset":0.0387,"color":"#777"},{"offset":0.0427,"color":"#777"},{"offset":0.0427,"color":"white"},
                {"offset":0.12,"color":"white"},{"offset":0.12,"color":"#777"},{"offset":0.124,"color":"#777"},{"offset":0.124,"color":"white"},
                {"offset":0.2013,"color":"white"},{"offset":0.2013,"color":"#777"},{"offset":0.2053,"color":"#777"},{"offset":0.2053,"color":"white"},
                {"offset":0.2826,"color":"white"},{"offset":0.2826,"color":"#777"},{"offset":0.2866,"color":"#777"},{"offset":0.2866,"color":"white"},
                {"offset":0.3639,"color":"white"},{"offset":0.3639,"color":"#777"},{"offset":0.3679,"color":"#777"},{"offset":0.3679,"color":"white"},
                {"offset":0.4452,"color":"white"},{"offset":0.4452,"color":"#777"},{"offset":0.4492,"color":"#777"},{"offset":0.4492,"color":"white"},
                {"offset":0.5265,"color":"white"},{"offset":0.5265,"color":"#777"},{"offset":0.5305,"color":"#777"},{"offset":0.5305,"color":"white"},
                {"offset":0.6078,"color":"white"},{"offset":0.6078,"color":"#777"},{"offset":0.6118,"color":"#777"},{"offset":0.6118,"color":"white"},
                {"offset":0.6891,"color":"white"},{"offset":0.6891,"color":"#777"},{"offset":0.6931,"color":"#777"},{"offset":0.6931,"color":"white"},
                {"offset":0.7704,"color":"white"},{"offset":0.7704,"color":"#777"},{"offset":0.7744,"color":"#777"},{"offset":0.7744,"color":"white"},
                {"offset":0.8517,"color":"white"},{"offset":0.8517,"color":"#777"},{"offset":0.8557,"color":"#777"},{"offset":0.8557,"color":"white"},
                {"offset":0.933,"color":"white"},{"offset":0.933,"color":"#777"},{"offset":0.937,"color":"#777"},{"offset":0.937,"color":"white"},
                {"offset":1,"color":"white"}]}},
              "encoding": {"y": {"field": "v", "type": "quantitative", "title": "Shear strength (Mpa)", "scale": {"domain": [30, 80], "nice": false, "zero": false},
                                 "axis": {"orient": "right", "format": "d", "values": [30,35,40,45,50,55,60,65,70,75,80], "labelExpr": "datum.value % 10 === 0 ? datum.label : ''", "titlePadding": 18}},
                           "y2": {"datum": 30}}
            },
            {
              "transform": [{"filter": "datum.v < 65"}],
              "mark": {"type": "bar", "stroke": "#555", "strokeWidth": 2, "fill": {"gradient": "linear", "x1": 1, "y1": 0, "x2": 0.851, "y2": 1.1139, "stops": [
                {"offset":0,"color":"white"},
                {"offset":0.0521,"color":"white"},{"offset":0.0521,"color":"#777"},{"offset":0.0575,"color":"#777"},{"offset":0.0575,"color":"white"},
                {"offset":0.1616,"color":"white"},{"offset":0.1616,"color":"#777"},{"offset":0.167,"color":"#777"},{"offset":0.167,"color":"white"},
                {"offset":0.2711,"color":"white"},{"offset":0.2711,"color":"#777"},{"offset":0.2765,"color":"#777"},{"offset":0.2765,"color":"white"},
                {"offset":0.3806,"color":"white"},{"offset":0.3806,"color":"#777"},{"offset":0.386,"color":"#777"},{"offset":0.386,"color":"white"},
                {"offset":0.4901,"color":"white"},{"offset":0.4901,"color":"#777"},{"offset":0.4955,"color":"#777"},{"offset":0.4955,"color":"white"},
                {"offset":0.5996,"color":"white"},{"offset":0.5996,"color":"#777"},{"offset":0.605,"color":"#777"},{"offset":0.605,"color":"white"},
                {"offset":0.7091,"color":"white"},{"offset":0.7091,"color":"#777"},{"offset":0.7145,"color":"#777"},{"offset":0.7145,"color":"white"},
                {"offset":0.8186,"color":"white"},{"offset":0.8186,"color":"#777"},{"offset":0.824,"color":"#777"},{"offset":0.824,"color":"white"},
                {"offset":0.9281,"color":"white"},{"offset":0.9281,"color":"#777"},{"offset":0.9335,"color":"#777"},{"offset":0.9335,"color":"white"},
                {"offset":1,"color":"white"}]}},
              "encoding": {"y": {"field": "v", "type": "quantitative", "title": "Shear strength (Mpa)"}, "y2": {"datum": 30}}
            },
            {"mark": {"type": "rule", "strokeWidth": 3, "color": "black"},
             "encoding": {"y": {"field": "lo", "type": "quantitative", "title": "Shear strength (Mpa)"}, "y2": {"field": "hi"}}},
            {"mark": {"type": "tick", "size": 18, "thickness": 3.5, "color": "black", "opacity": 1},
             "encoding": {"y": {"field": "lo", "type": "quantitative", "title": "Shear strength (Mpa)"}}},
            {"mark": {"type": "tick", "size": 18, "thickness": 3.5, "color": "black", "opacity": 1},
             "encoding": {"y": {"field": "hi", "type": "quantitative", "title": "Shear strength (Mpa)"}}}
          ]
        }
      ]
    }
  ]
}
